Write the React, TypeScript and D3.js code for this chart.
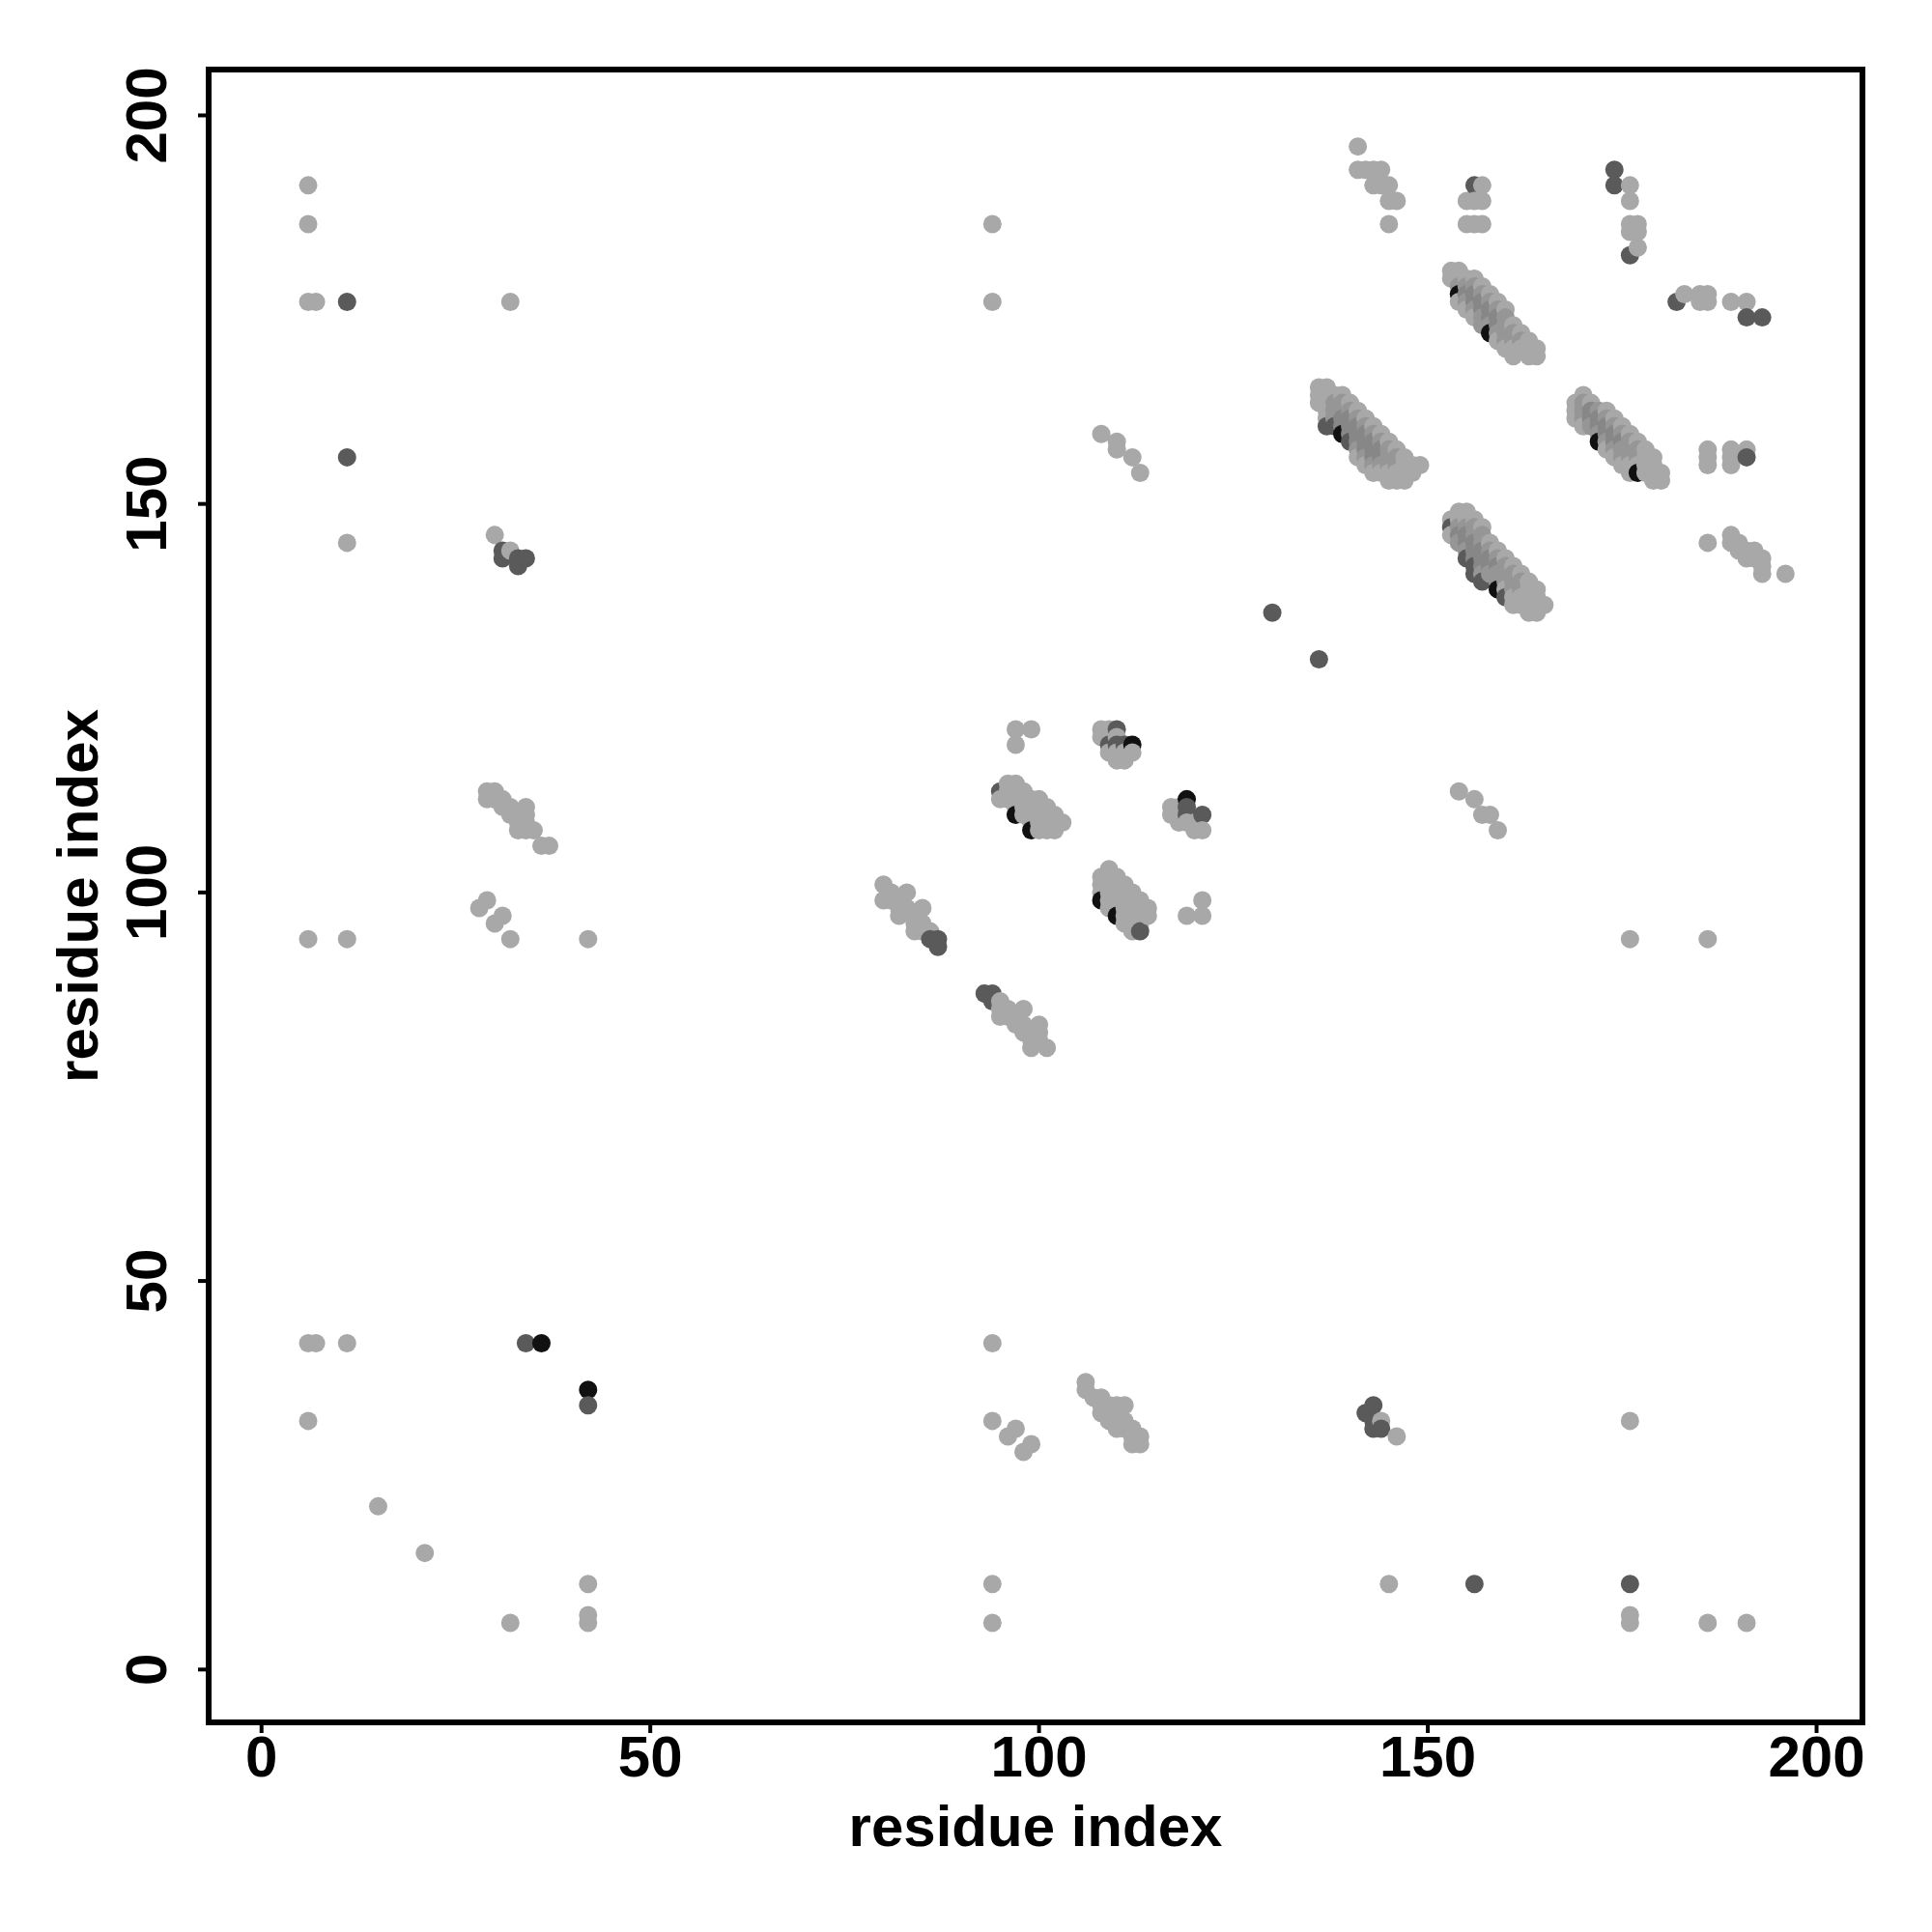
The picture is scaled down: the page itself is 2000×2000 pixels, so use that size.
import React from "react";
import * as d3 from "d3";

// [x residue, y residue, shade level 1..5]
type P = [number, number, number];

const xTicks = [0, 50, 100, 150, 200];
const yTicks = [0, 50, 100, 150, 200];
const shadeColors = ["#a8a8a8", "#969696", "#878787", "#5a5a5a", "#111111"];

const leftColumn: P[] = [
  [6,191,1],[6,186,1],[6,176,1],[7,176,1],[11,176,4],[11,156,4],[11,145,1],[32,176,1],
  [6,94,1],[11,94,1],[32,94,1],[42,94,1],
  [6,42,1],[7,42,1],[11,42,1],[34,42,4],[36,42,5],[42,36,5],[42,34,4],[6,32,1],
  [15,21,1],[21,15,1],[32,6,1],[42,11,1],[42,7,1],[42,6,1],
];

const cluster30_97: P[] = [[28,98,1],[29,99,1],[30,96,1],[31,97,1]];

const cluster33_110: P[] = [
  [29,113,1],[30,113,1],[29,112,1],[30,112,1],[31,112,1],[31,111,1],[32,111,1],[32,110,1],
  [33,110,1],[33,109,1],[34,111,1],[34,110,1],[34,109,1],[33,108,1],[34,108,1],[35,108,1],
  [36,106,1],[37,106,1],
];

const cluster32_144: P[] = [[30,146,1],[31,144,4],[31,143,4],[32,144,1],[33,143,4],[33,142,4],[34,143,4]];

const band84_97: P[] = [
  [80,101,1],[81,100,1],[80,99,1],[81,99,1],[82,99,1],[83,100,1],[82,98,1],[83,98,1],
  [82,97,1],[84,97,1],[85,98,1],[84,96,1],[85,96,1],[84,95,1],[85,95,1],[86,95,1],
  [86,94,4],[87,94,4],[87,93,4],
];

const band97_84: P[] = [
  [93,87,4],[94,87,4],[94,86,4],[95,86,1],[95,85,1],[96,85,1],[95,84,1],[96,84,1],[97,84,1],
  [98,85,1],[97,83,1],[98,83,1],[98,82,1],[99,82,1],[100,83,1],[100,82,1],[99,81,1],
  [100,81,1],[99,80,1],[101,80,1],
];

const band99_111: P[] = [
  [95,113,4],[95,112,1],[96,114,1],[97,114,1],[96,113,1],[97,113,1],[98,113,1],[96,112,1],
  [97,112,1],[98,112,1],[99,112,1],[100,112,1],[97,111,1],[98,111,1],[99,111,1],[100,111,1],
  [101,111,1],[98,110,1],[99,110,1],[100,110,1],[101,110,1],[102,110,1],[97,110,5],[99,109,1],
  [100,109,1],[101,109,1],[102,109,1],[103,109,1],[100,108,1],[101,108,1],[102,108,1],[99,108,5],
  [97,121,1],[99,121,1],[97,119,1],
];

const cluster110_119: P[] = [
  [108,121,1],[109,121,1],[110,121,4],[108,120,1],[109,120,1],[110,120,1],[109,119,4],[110,119,4],
  [111,119,4],[112,119,5],[109,118,1],[110,118,1],[111,118,1],[112,118,1],[110,117,1],[111,117,1],
];

const cluster119_110: P[] = [
  [117,111,1],[118,111,1],[117,110,1],[118,110,1],[119,112,5],[119,111,4],[119,110,4],[121,110,4],
  [118,109,1],[119,109,1],[120,109,1],[120,108,1],[121,108,1],
  [119,97,1],[121,97,1],[121,99,1],
];

const band111_99: P[] = [
  [109,103,1],[108,102,1],[109,102,1],[110,102,1],[108,101,1],[109,101,1],[110,101,1],[111,101,1],
  [108,100,1],[109,100,1],[110,100,1],[111,100,1],[112,100,1],[108,99,5],[109,99,1],[110,99,1],
  [111,99,1],[112,99,1],[113,99,1],[109,98,1],[110,98,1],[111,98,1],[112,98,1],[113,98,1],
  [114,98,1],[110,97,5],[111,97,1],[112,97,1],[113,97,1],[114,97,1],[111,96,1],[112,96,1],
  [113,96,1],[112,95,1],[113,95,4],
];

const lowerMid: P[] = [
  [94,186,1],[94,176,1],[94,42,1],[94,32,1],[94,11,1],[94,6,1],
  [96,30,1],[97,31,1],[98,28,1],[99,29,1],
  [106,37,1],[106,36,1],[107,35,1],[108,35,1],[108,34,1],[108,33,1],[109,34,1],[110,34,1],
  [111,34,1],[109,33,1],[110,33,1],[109,32,1],[110,32,1],[111,32,1],[110,31,1],[111,31,1],
  [112,31,1],[112,30,1],[113,30,1],[112,29,1],[113,29,1],
  [142,33,4],[143,34,4],[143,32,4],[143,31,4],[144,31,4],[144,32,1],[146,30,1],
  [145,11,1],[156,11,4],[176,11,4],[176,7,1],[176,6,1],[186,6,1],[191,6,1],
  [176,32,1],[176,94,1],[186,94,1],[130,136,4],[136,130,4],
  [108,159,1],[110,158,1],[110,157,1],[112,156,1],[113,154,1],
  [154,113,1],[156,112,1],[157,110,1],[158,110,1],[159,108,1],
];

const topRightSparse: P[] = [
  [141,196,1],[141,193,1],[142,193,1],[143,193,1],[144,193,1],[143,191,1],[144,191,1],[145,191,1],
  [145,189,1],[146,189,1],[145,186,1],
  [156,191,4],[157,191,1],[155,189,1],[156,189,1],[157,189,1],[155,186,1],[156,186,1],[157,186,1],
  [174,193,4],[174,191,4],[176,191,1],[176,189,1],[176,186,1],[177,186,1],[176,185,1],[177,185,1],
  [177,183,1],[176,182,4],
  [182,176,4],[183,177,1],[185,177,1],[186,177,1],[185,176,1],[186,176,1],[189,176,1],[191,176,1],
  [191,174,4],[193,174,4],
  [186,157,1],[186,156,1],[186,155,1],[189,157,1],[189,156,1],[189,155,1],[191,157,1],[191,156,4],
  [186,145,1],[189,146,1],[189,145,1],[190,145,1],[190,144,1],[191,144,1],[192,144,1],[191,143,1],
  [192,143,1],[193,143,1],[193,142,1],[193,141,1],[196,141,1],
];

const band1: P[] = [
  [156,179,1],[157,178,1],[158,177,1],[159,176,1],[160,175,1],
  [154,180,1],[155,179,1],[156,178,2],[157,177,2],[158,176,2],[159,175,2],[160,174,2],[161,173,1],
  [162,172,1],[163,171,1],[164,170,1],
  [153,180,1],[154,179,1],[155,178,2],[156,177,3],[157,176,3],[158,175,3],[159,174,3],[160,173,2],
  [161,172,2],[162,171,2],[163,170,1],[164,169,1],
  [153,179,1],[154,178,2],[155,177,3],[156,176,3],[157,175,3],[158,174,3],[159,173,3],[160,172,2],
  [161,171,2],[162,170,1],[163,169,1],
  [154,177,5],[155,176,2],[156,175,2],[157,174,2],[158,173,2],[159,172,2],[160,171,2],[161,170,1],
  [154,176,1],[155,175,1],[156,174,1],[157,173,2],[158,172,5],[159,171,1],[160,170,1],[161,169,1],
];

const band4: P[] = [
  [173,162,1],[174,161,1],[175,160,1],[176,159,1],[177,158,1],[178,157,1],[179,156,1],
  [170,164,1],[171,163,1],[172,162,2],[173,161,2],[174,160,2],[175,159,2],[176,158,2],[177,157,2],
  [178,156,1],[179,155,1],[180,154,1],
  [170,163,2],[171,162,3],[172,161,3],[173,160,3],[174,159,3],[175,158,3],[176,157,2],[177,156,2],
  [178,155,1],[179,154,1],[180,153,1],
  [169,163,1],[170,162,2],[171,161,3],[172,160,3],[173,159,3],[174,158,3],[175,157,2],[176,156,2],
  [177,155,1],[178,154,1],[179,153,1],
  [169,162,1],[170,161,2],[171,160,2],[172,159,2],[173,158,2],[174,157,2],[175,156,2],[176,155,1],
  [177,154,5],
  [169,161,1],[170,160,1],[172,158,5],[173,157,1],[174,156,1],[175,155,1],[176,154,1],
];

const band2: P[] = [
  [149,155,1],
  [139,164,1],[140,163,1],[141,162,1],[142,161,1],[143,160,1],[144,159,1],[145,158,1],[146,157,1],
  [147,156,1],[148,155,1],
  [137,165,1],[138,164,1],[139,163,2],[140,162,2],[141,161,2],[142,160,2],[143,159,2],[144,158,2],
  [145,157,2],[146,156,2],[147,155,1],[148,154,1],
  [136,165,1],[137,164,1],[138,163,2],[139,162,2],[140,161,3],[141,160,3],[142,159,3],[143,158,3],
  [144,157,3],[145,156,2],[146,155,2],[147,154,1],
  [136,164,1],[137,163,1],[138,162,2],[139,161,3],[140,160,3],[141,159,3],[142,158,3],[143,157,3],
  [144,156,3],[145,155,2],[146,154,1],[147,153,1],
  [136,163,1],[137,162,1],[138,161,2],[139,160,3],[140,159,3],[141,158,3],[142,157,3],[143,156,3],
  [144,155,2],[145,154,1],[146,153,1],
  [137,161,1],[138,160,4],[139,159,5],[140,158,4],[141,157,2],[142,156,2],[143,155,2],[144,154,1],
  [145,153,1],
  [137,160,4],[141,156,1],[142,155,1],[143,154,1],
];

const band3: P[] = [
  [155,149,1],[156,148,1],[157,147,1],
  [154,149,1],[155,148,1],[156,147,2],[157,146,2],[158,145,1],[159,144,1],[160,143,1],[161,142,1],
  [162,141,1],[163,140,1],[164,139,1],
  [154,148,1],[155,147,2],[156,146,2],[157,145,2],[158,144,2],[159,143,2],[160,142,2],[161,141,2],
  [162,140,2],[163,139,1],[164,138,1],[165,137,1],
  [153,148,1],[154,147,2],[155,146,3],[156,145,3],[157,144,3],[158,143,3],[159,142,3],[160,141,2],
  [161,140,2],[162,139,2],[163,138,1],[164,137,1],
  [153,147,4],[154,146,3],[155,145,3],[156,144,3],[157,143,3],[158,142,3],[159,141,2],[160,140,2],
  [161,139,2],[162,138,1],[163,137,1],[164,136,1],
  [153,146,1],[154,145,2],[155,144,2],[156,143,3],[157,142,3],[158,141,2],[159,140,2],[160,139,1],
  [161,138,1],[162,137,1],[163,136,1],
  [155,143,4],[156,142,4],[157,141,2],[159,139,5],[160,138,4],[161,137,1],
  [156,141,4],[157,140,4],
];

const allPoints: P[] = [
  ...leftColumn, ...cluster30_97, ...cluster33_110, ...cluster32_144, ...band84_97, ...band97_84,
  ...band99_111, ...cluster110_119, ...cluster119_110, ...band111_99, ...lowerMid,
  ...topRightSparse, ...band1, ...band4, ...band2, ...band3,
].slice().sort((a, b) => (a[0] - b[0]) || (b[1] - a[1]));

const FONT = "'Liberation Sans', Arial, Helvetica, sans-serif";

export default function App() {
  const left = 216, right = 1928, top = 72, bottom = 1783;
  const x = d3.scaleLinear().domain([-6.8, 205.9]).range([left, right]);
  const y = d3.scaleLinear().domain([-6.8, 205.9]).range([bottom, top]);
  const cx = (left + right) / 2;
  const cy = (top + bottom) / 2;

  return (
    <svg width={2000} height={2000} style={{ position: "absolute", left: 0, top: 0, background: "#fff" }}
      xmlns="http://www.w3.org/2000/svg">
      <rect x={0} y={0} width={2000} height={2000} fill="#fff" />
      <g>
        {allPoints.map((p, i) => (
          <circle key={i} cx={x(p[0])} cy={y(p[1])} r={9.5} fill={shadeColors[p[2] - 1]} />
        ))}
      </g>
      <rect x={left} y={top} width={right - left} height={bottom - top} fill="none" stroke="#000" strokeWidth={6} />
      {xTicks.map((t) => (
        <g key={"x" + t}>
          <line x1={x(t)} x2={x(t)} y1={bottom} y2={bottom + 11} stroke="#000" strokeWidth={4} />
          <text x={x(t)} y={1839} textAnchor="middle" fontFamily={FONT} fontWeight="bold" fontSize={60}>{t}</text>
        </g>
      ))}
      {yTicks.map((t) => (
        <g key={"y" + t}>
          <line x1={left - 11} x2={left} y1={y(t)} y2={y(t)} stroke="#000" strokeWidth={4} />
          <text transform={`translate(172,${y(t)}) rotate(-90)`} textAnchor="middle" fontFamily={FONT}
            fontWeight="bold" fontSize={60}>{t}</text>
        </g>
      ))}
      <text x={cx} y={1911} textAnchor="middle" fontFamily={FONT} fontWeight="bold" fontSize={60}>residue index</text>
      <text transform={`translate(101,${cy}) rotate(-90)`} textAnchor="middle" fontFamily={FONT}
        fontWeight="bold" fontSize={60}>residue index</text>
    </svg>
  );
}
